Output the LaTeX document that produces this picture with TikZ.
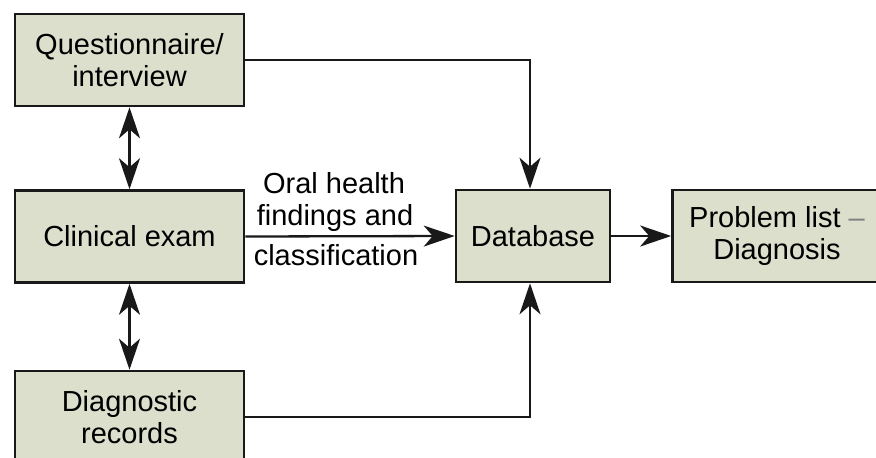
\documentclass[tikz,border=0pt]{standalone}
\usepackage{fontspec}
\setmainfont{Liberation Sans}
\usetikzlibrary{arrows.meta}
\definecolor{boxfill}{RGB}{219,223,204}
\definecolor{ink}{RGB}{25,25,25}
\begin{document}
\begin{tikzpicture}[x=1pt,y=-1pt,
  box/.style={draw=ink, fill=boxfill, line width=2.6pt, align=center,
    font=\fontsize{29}{32.5}\selectfont, inner sep=0pt, minimum height=92pt},
  conn/.style={line width=2.3pt, draw=ink},
  tipend/.style={-{Stealth[length=31pt,width=21pt,inset=9pt]}},
  tipboth/.style={{Stealth[length=31pt,width=21pt,inset=9pt]}-{Stealth[length=31pt,width=21pt,inset=9pt]}},
  lbl/.style={font=\fontsize{29}{32.5}\selectfont, anchor=base, inner sep=0pt}
]
\clip (0,0) rectangle (876,458);
\node[box, minimum width=229pt] (q) at (129.5,60) {Questionnaire/\\interview};
\node[box, minimum width=229pt] (c) at (129.5,236.5) {Clinical exam};
\node[box, minimum width=229pt] (d) at (129.5,417) {Diagnostic\\records};
\node[box, minimum width=154pt] (db) at (533,236) {Database};
\node[box, minimum width=209pt] (p) at (777,236) {Problem list \textcolor{gray}{–}\\Diagnosis};

\draw[conn, tipend] (q.east) -| ([xshift=-3pt]db.north);
\draw[conn, tipend] (d.east) -| ([xshift=-3pt]db.south);
\draw[conn, tipend] (c.east) -- (db.west);
\draw[conn, tipend] (db.east) -- (p.west);
\draw[conn, tipboth] (q.south) -- (c.north);
\draw[conn, tipboth] (c.south) -- (d.north);

\node[lbl] (l1) at (334,193) {Oral health};
\node[lbl] (l2) at (335,225) {findings and};
\node[lbl] (l3) at (336,265) {classification};
\end{tikzpicture}
\end{document}
